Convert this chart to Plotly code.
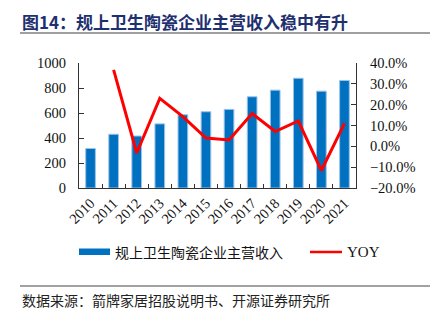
import plotly.graph_objects as go

years = ["2010", "2011", "2012", "2013", "2014", "2015", "2016",
         "2017", "2018", "2019", "2020", "2021"]
revenue = [316, 430, 416, 513, 586, 610, 629, 730, 783, 878, 775, 860]
yoy = [None, 0.367, -0.032, 0.230, 0.143, 0.040, 0.031,
       0.157, 0.071, 0.122, -0.116, 0.110]

title_text = "图14：规上卫生陶瓷企业主营收入稳中有升"
bar_name = "规上卫生陶瓷企业主营收入"
line_name = "YOY"
source_text = "数据来源：箭牌家居招股说明书、开源证券研究所"

W, H = 436, 323
L, R, T, B = 79, 356, 63, 188  # plot area in pixels

def px(x):
    return (x - L) / (R - L)

def py(y):
    return (B - y) / (B - T)

SERIF = "Liberation Serif, Times New Roman, serif"
CJK = "Noto Sans CJK SC, sans-serif"
BLUE = "#0070C0"
RED = "#FF0000"

fig = go.Figure()
fig.add_trace(go.Bar(
    x=years, y=revenue, name=bar_name,
    marker=dict(color=BLUE, line=dict(color="#9DC3E6", width=1)),
    width=0.42, showlegend=False,
))
fig.add_trace(go.Scatter(
    x=years, y=yoy, name=line_name, yaxis="y2", mode="lines",
    line=dict(color=RED, width=3), showlegend=False,
))

def axis_style(**extra):
    style = dict(showline=True, linecolor="#333333", linewidth=1,
                 ticks="inside", tickcolor="#333333", ticklen=5,
                 showgrid=False, zeroline=False,
                 tickfont=dict(family=SERIF, size=14.5, color="#111111"))
    style.update(extra)
    return style

fig.update_layout(
    width=W, height=H,
    margin=dict(l=L, r=W - R, t=T, b=H - B, pad=0),
    paper_bgcolor="white", plot_bgcolor="white",
    bargap=0.5,
    xaxis=axis_style(type="category", tickson="boundaries",
                     tickangle=-45, ticklen=4),
    yaxis=axis_style(range=[0, 1000], dtick=200, ticklabelstandoff=9),
    yaxis2=axis_style(overlaying="y", side="right",
                      range=[-0.2, 0.4], dtick=0.1, tickformat=".1%",
                      ticklabelstandoff=10),
    showlegend=False,
)

# title and rules
fig.add_annotation(text="<b>" + title_text + "</b>", x=px(20), y=py(22),
                   xref="paper", yref="paper", xanchor="left", yanchor="middle",
                   showarrow=False,
                   font=dict(family=CJK, size=17, color="#1F3070"))
fig.add_shape(type="line", xref="paper", yref="paper",
              x0=px(20), x1=px(430), y0=py(33), y1=py(33),
              line=dict(color="#7f7f7f", width=1.5))
fig.add_shape(type="line", xref="paper", yref="paper",
              x0=px(20), x1=px(430), y0=py(286), y1=py(286),
              line=dict(color="#444444", width=1))
fig.add_annotation(text=source_text, x=px(20), y=py(300),
                   xref="paper", yref="paper", xanchor="left", yanchor="middle",
                   showarrow=False,
                   font=dict(family=CJK, size=14, color="#222222"))

# legend
fig.add_shape(type="rect", xref="paper", yref="paper",
              x0=px(79), x1=px(110), y0=py(255), y1=py(248.5),
              fillcolor=BLUE, line=dict(width=0))
fig.add_annotation(text=bar_name, x=px(113), y=py(252),
                   xref="paper", yref="paper", xanchor="left", yanchor="middle",
                   showarrow=False,
                   font=dict(family=CJK, size=14, color="#111111"))
fig.add_shape(type="line", xref="paper", yref="paper",
              x0=px(310), x1=px(342), y0=py(252), y1=py(252),
              line=dict(color=RED, width=2.5))
fig.add_annotation(text=line_name, x=px(345), y=py(252),
                   xref="paper", yref="paper", xanchor="left", yanchor="middle",
                   showarrow=False,
                   font=dict(family=SERIF, size=15, color="#111111"))

fig.write_html("out.html")
